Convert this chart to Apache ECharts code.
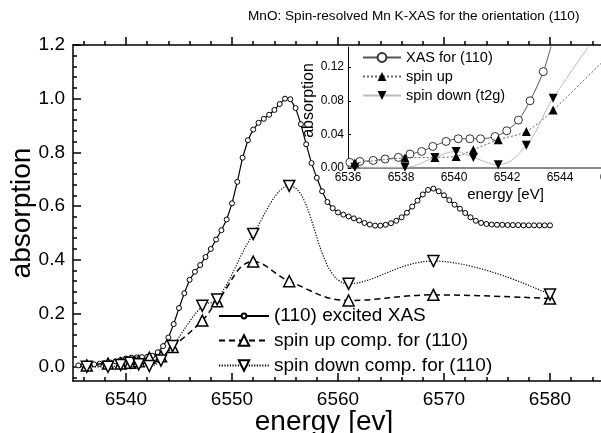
<!DOCTYPE html>
<html><head><meta charset="utf-8">
<script src="https://cdn.jsdelivr.net/npm/echarts@6/dist/echarts.min.js"></script>
<style>html,body{margin:0;padding:0;background:#fff}#c{width:601px;height:433px}</style>
</head><body><div id="c"></div><script>
// ---------- data ----------
const titleText = 'MnO: Spin-resolved Mn K-XAS for the orientation (110)';
const mainXTicks = [6540, 6550, 6560, 6570, 6580];
const mainXMinor = [6536, 6538, 6542, 6544, 6546, 6548, 6552, 6554, 6556, 6558, 6562, 6564, 6566, 6568, 6572, 6574, 6576, 6578, 6582, 6584];
const mainYTicks = [0, 0.2, 0.4, 0.6, 0.8, 1.0, 1.2];
const mainYMinor = [-0.04, 0.04, 0.08, 0.12, 0.16, 0.24, 0.28, 0.32, 0.36, 0.44, 0.48, 0.52, 0.56, 0.64, 0.68, 0.72, 0.76, 0.84, 0.88, 0.92, 0.96, 1.04, 1.08, 1.12, 1.16];
const insetXTicks = [6536, 6538, 6540, 6542, 6544, 6546];
const insetYTicks = [0, 0.04, 0.08, 0.12];

const xasEnergy = [
  6535.5, 6536.0, 6536.5, 6537.0, 6537.5, 6538.0, 6538.5, 6539.0, 6539.5, 6540.0,
  6540.5, 6541.0, 6541.5, 6542.0, 6542.5, 6543.0, 6543.5, 6544.0, 6544.5, 6545.0,
  6545.5, 6546.0, 6546.5, 6547.0, 6547.5, 6548.0, 6548.5, 6549.0, 6549.5, 6550.0,
  6550.5, 6551.0, 6551.5, 6552.0, 6552.5, 6553.0, 6553.5, 6554.0, 6554.5, 6555.0,
  6555.5, 6556.0, 6556.5, 6557.0, 6557.5, 6558.0, 6558.5, 6559.0, 6559.5, 6560.0,
  6560.5, 6561.0, 6561.5, 6562.0, 6562.5, 6563.0, 6563.5, 6564.0, 6564.5, 6565.0,
  6565.5, 6566.0, 6566.5, 6567.0, 6567.5, 6568.0, 6568.5, 6569.0, 6569.5, 6570.0,
  6570.5, 6571.0, 6571.5, 6572.0, 6572.5, 6573.0, 6573.5, 6574.0, 6574.5, 6575.0,
  6575.5, 6576.0, 6576.5, 6577.0, 6577.5, 6578.0, 6578.5, 6579.0, 6579.5, 6580.0
];
const xasValue = [
  0.006, 0.007, 0.008, 0.010, 0.012, 0.014, 0.017, 0.021, 0.027, 0.032,
  0.035, 0.036, 0.037, 0.038, 0.042, 0.055, 0.078, 0.110, 0.160, 0.220,
  0.275, 0.325, 0.355, 0.380, 0.410, 0.440, 0.475, 0.510, 0.550, 0.610,
  0.690, 0.780, 0.845, 0.885, 0.910, 0.925, 0.940, 0.958, 0.980, 1.000,
  0.998, 0.965, 0.905, 0.830, 0.760, 0.705, 0.655, 0.615, 0.592, 0.576,
  0.568, 0.561, 0.554, 0.546, 0.537, 0.531, 0.527, 0.527, 0.530, 0.536,
  0.545, 0.558, 0.575, 0.598, 0.620, 0.643, 0.660, 0.665, 0.655, 0.640,
  0.622, 0.605, 0.590, 0.574, 0.558, 0.545, 0.537, 0.533, 0.531, 0.530,
  0.530, 0.529, 0.529, 0.529, 0.528, 0.528, 0.528, 0.528, 0.528, 0.528
];
const spinEnergy = [6536.3, 6538.3, 6539.5, 6540.4, 6541.2, 6542.2, 6543.3, 6544.4, 6547.2, 6548.6, 6552.0, 6555.4, 6561.0, 6569.0, 6580.0];
const spinUp     = [0.006, 0.013, 0.013, 0.016, 0.022, 0.035, 0.040, 0.075, 0.173, 0.245, 0.393, 0.320, 0.248, 0.269, 0.255];
const spinDown   = [0.001, 0.001, 0.008, 0.016, 0.010, 0.004, 0.024, 0.078, 0.228, 0.252, 0.496, 0.675, 0.310, 0.395, 0.270];

const insetXasEnergy = [6536.07, 6536.45, 6536.95, 6537.4, 6537.9, 6538.34, 6538.78, 6539.2, 6539.7, 6540.16, 6540.6, 6541.0, 6541.55, 6541.99, 6542.43, 6542.87, 6543.37, 6543.8];
const insetXasValue  = [0.0067, 0.0078, 0.009, 0.0107, 0.0126, 0.0166, 0.0197, 0.0257, 0.0316, 0.0348, 0.0348, 0.0348, 0.0375, 0.0443, 0.057, 0.080, 0.1147, 0.16];
const insetSpinEnergy = [6536.26, 6538.15, 6539.28, 6540.08, 6540.73, 6541.67, 6542.73, 6543.74, 6547.0];
const insetSpinUp     = [0.006, 0.012, 0.0126, 0.0138, 0.0217, 0.0336, 0.0435, 0.069, 0.17];
const insetSpinDown   = [0.001, 0.0008, 0.0126, 0.0197, 0.0126, 0.004, 0.027, 0.083, 0.23];

// ---------- chart ----------
const FONT = '"Liberation Sans", Arial, sans-serif';
const zip = (xs, ys) => xs.map((x, i) => [x, ys[i]]);
const plain = v => String(v);
const chart = echarts.init(document.getElementById('c'), null, {renderer: 'canvas'});

const MAIN_X = {min: 6535, max: 6585};
const MAIN_Y = {min: -0.052, max: 1.2};

function axisBase(extra) {
  return Object.assign({type: 'value', splitLine: {show: false}}, extra);
}
function line(show, color, width) {
  return {show: show, onZero: false, lineStyle: {color: color || '#000', width: width || 1.5}};
}

const option = {
  backgroundColor: '#fff',
  animation: false,
  title: {
    text: titleText, left: 248, top: 9, padding: 0,
    textStyle: {fontFamily: FONT, fontSize: 13.6, fontWeight: 'normal', color: '#000'}
  },
  grid: [
    {left: 73, top: 45, width: 530, height: 336, outerBoundsMode: 'none', containLabel: false},
    {left: 348, top: 47, width: 265, height: 121, show: true, backgroundColor: '#fff', borderWidth: 0,
     outerBoundsMode: 'none', containLabel: false}
  ],
  legend: [
    {
      data: ['(110) excited XAS'], orient: 'vertical', left: 218, top: 306.5, padding: 0,
      itemWidth: 50, itemHeight: 6, symbolRotate: 'inherit',
      textStyle: {fontFamily: FONT, fontSize: 19, color: '#000'}
    },
    {
      data: ['spin up comp. for (110)', 'spin down comp. for (110)'], orient: 'vertical', left: 218, top: 331, padding: 0,
      itemWidth: 50, itemHeight: 13, itemGap: 6, symbolRotate: 'inherit',
      textStyle: {fontFamily: FONT, fontSize: 19, color: '#000'}
    },
    {
      data: ['XAS for (110)', 'spin up', 'spin down (t2g)'], orient: 'vertical', left: 362, top: 50, padding: 0,
      itemWidth: 38, itemHeight: 11, itemGap: 4, symbolRotate: 'inherit',
      textStyle: {fontFamily: FONT, fontSize: 14.5, color: '#000'}
    }
  ],
  xAxis: [
    axisBase(Object.assign({gridIndex: 0, position: 'bottom',
      name: 'energy [ev]', nameLocation: 'middle', nameGap: 27, nameMoveOverlap: false,
      nameTextStyle: {fontFamily: FONT, fontSize: 28, color: '#000', padding: [0, 28, 0, 0]},
      axisLine: line(true),
      axisTick: {show: true, inside: true, length: 8, customValues: mainXTicks, lineStyle: {color: '#000', width: 1.5}},
      axisLabel: {show: true, customValues: mainXTicks, margin: 9, fontFamily: FONT, fontSize: 19, color: '#000', formatter: plain}
    }, MAIN_X)),
    axisBase(Object.assign({gridIndex: 0, position: 'bottom',
      axisLine: line(false),
      axisTick: {show: true, inside: true, length: 4, customValues: mainXMinor, lineStyle: {color: '#000', width: 1.5}},
      axisLabel: {show: false}
    }, MAIN_X)),
    axisBase(Object.assign({gridIndex: 0, position: 'top',
      axisLine: line(true),
      axisTick: {show: true, inside: false, length: 8, customValues: mainXTicks, lineStyle: {color: '#000', width: 1.5}},
      axisLabel: {show: false}
    }, MAIN_X)),
    axisBase(Object.assign({gridIndex: 0, position: 'top',
      axisLine: line(false),
      axisTick: {show: true, inside: false, length: 4, customValues: mainXMinor, lineStyle: {color: '#000', width: 1.5}},
      axisLabel: {show: false}
    }, MAIN_X)),
    {
      type: 'value', gridIndex: 1, position: 'bottom', min: 6536, max: 6546,
      splitLine: {show: false},
      name: 'energy [eV]', nameLocation: 'middle', nameGap: 19,
      nameTextStyle: {fontFamily: FONT, fontSize: 15, color: '#000', padding: [0, 0, 0, 50]},
      axisLine: line(true, '#888', 2),
      axisTick: {show: false},
      axisLabel: {customValues: insetXTicks, margin: 4, fontFamily: FONT, fontSize: 12, color: '#000', formatter: plain}
    }
  ],
  yAxis: [
    axisBase(Object.assign({gridIndex: 0, position: 'left',
      name: 'absorption', nameLocation: 'middle', nameGap: 37, nameMoveOverlap: false,
      nameTextStyle: {fontFamily: FONT, fontSize: 28, color: '#000'},
      axisLine: line(true),
      axisTick: {show: true, inside: true, length: 8, customValues: mainYTicks, lineStyle: {color: '#000', width: 1.5}},
      axisLabel: {show: true, customValues: mainYTicks, margin: 8, fontFamily: FONT, fontSize: 19, color: '#000',
        formatter: v => v.toFixed(1)}
    }, MAIN_Y)),
    axisBase(Object.assign({gridIndex: 0, position: 'left',
      axisLine: line(false),
      axisTick: {show: true, inside: true, length: 4, customValues: mainYMinor, lineStyle: {color: '#000', width: 1.5}},
      axisLabel: {show: false}
    }, MAIN_Y)),
    {
      type: 'value', gridIndex: 1, position: 'left', min: 0, max: 0.144,
      splitLine: {show: false},
      name: 'absorption', nameLocation: 'middle', nameGap: 31,
      nameTextStyle: {fontFamily: FONT, fontSize: 16, color: '#000', padding: [0, 0, 0, 14]},
      axisLine: line(true, '#000', 1),
      axisTick: {show: true, inside: true, length: 3, customValues: insetYTicks, lineStyle: {color: '#000'}},
      axisLabel: {customValues: insetYTicks, margin: 4, fontFamily: FONT, fontSize: 12, color: '#000',
        formatter: v => v.toFixed(2)}
    }
  ],
  series: [
    {
      name: '(110) excited XAS', type: 'line', xAxisIndex: 0, yAxisIndex: 0,
      data: zip(xasEnergy, xasValue),
      symbol: 'circle', symbolSize: 5, showAllSymbol: true,
      lineStyle: {color: '#000', width: 1.2},
      itemStyle: {color: '#fff', borderColor: '#000', borderWidth: 1},
      z: 3
    },
    {
      name: 'spin up comp. for (110)', type: 'line', xAxisIndex: 0, yAxisIndex: 0,
      data: zip(spinEnergy, spinUp), smooth: 0.4,
      symbol: 'triangle', symbolSize: 11, showAllSymbol: true,
      lineStyle: {color: '#000', width: 1.5, type: [6, 4]},
      itemStyle: {color: '#fff', borderColor: '#000', borderWidth: 1.5},
      z: 4
    },
    {
      name: 'spin down comp. for (110)', type: 'line', xAxisIndex: 0, yAxisIndex: 0,
      data: zip(spinEnergy, spinDown), smooth: 0.4,
      symbol: 'triangle', symbolRotate: 180, symbolSize: 11, showAllSymbol: true,
      lineStyle: {color: '#000', width: 1.2, type: [1.2, 1.5]},
      itemStyle: {color: '#fff', borderColor: '#000', borderWidth: 1.5},
      z: 5
    },
    {
      name: 'XAS for (110)', type: 'line', xAxisIndex: 4, yAxisIndex: 2,
      data: zip(insetXasEnergy, insetXasValue), smooth: 0.3,
      symbol: 'circle', symbolSize: 8, showAllSymbol: true,
      lineStyle: {color: '#555', width: 1},
      itemStyle: {color: '#fff', borderColor: '#333', borderWidth: 1},
      z: 6
    },
    {
      name: 'spin up', type: 'line', xAxisIndex: 4, yAxisIndex: 2,
      data: zip(insetSpinEnergy, insetSpinUp), smooth: 0.3,
      symbol: 'triangle', symbolSize: 9, showAllSymbol: true,
      lineStyle: {color: '#666', width: 1, type: [2, 2]},
      itemStyle: {color: '#000', borderColor: '#000', borderWidth: 0},
      z: 7
    },
    {
      name: 'spin down (t2g)', type: 'line', xAxisIndex: 4, yAxisIndex: 2,
      data: zip(insetSpinEnergy, insetSpinDown), smooth: 0.4,
      symbol: 'triangle', symbolRotate: 180, symbolSize: 9, showAllSymbol: true,
      lineStyle: {color: '#bbb', width: 1},
      itemStyle: {color: '#000', borderColor: '#000', borderWidth: 0},
      z: 7
    }
  ]
};
chart.setOption(option);
</script></body></html>
